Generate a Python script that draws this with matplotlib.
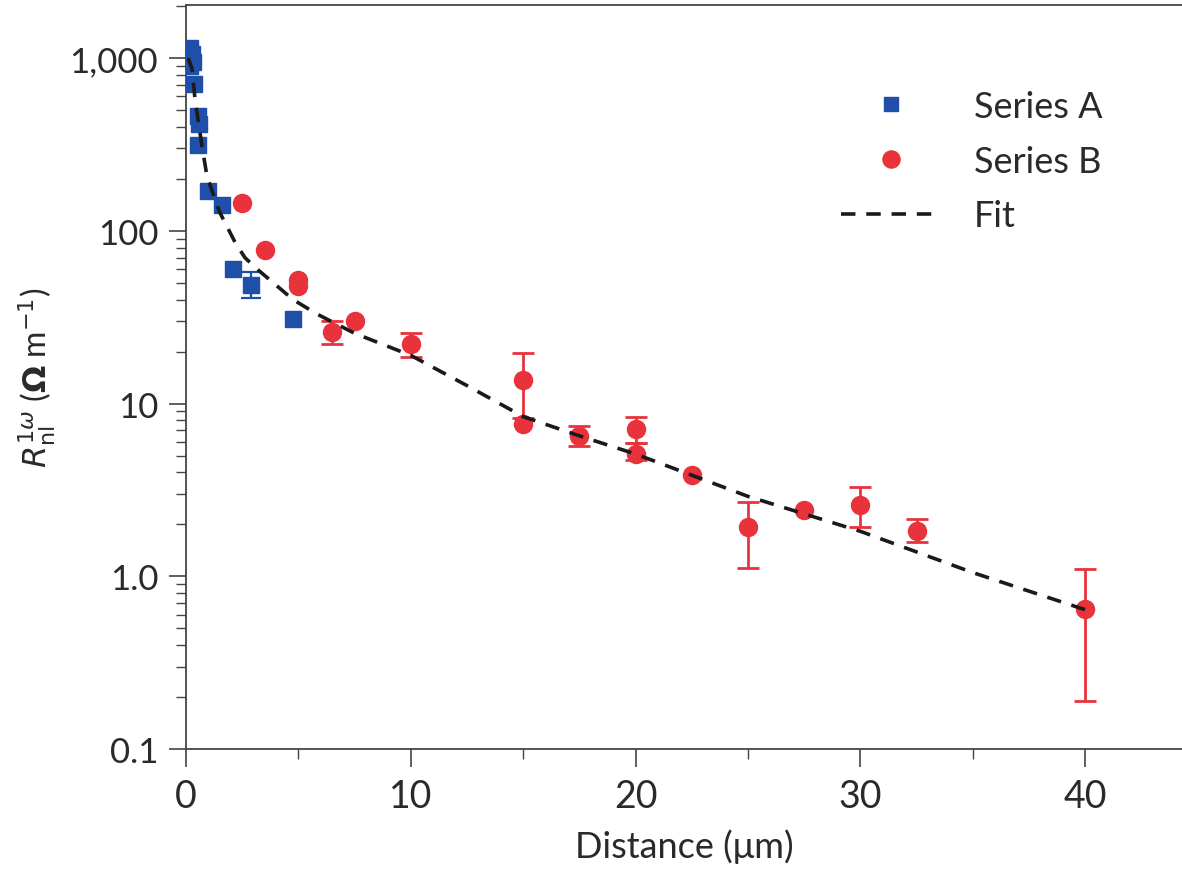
import numpy as np
import matplotlib
matplotlib.use('Agg')
import matplotlib.pyplot as plt
from matplotlib.ticker import FixedLocator, FixedFormatter, LogLocator, NullFormatter

# Series A (blue squares)
xa = [0.2, 0.25, 0.3, 0.2, 0.36, 0.55, 0.6, 0.55, 1.0, 1.6, 2.1, 2.9, 4.75]
ya = [1150, 1050, 950, 900, 708, 462, 415, 315, 170, 141, 60, 48.7, 31]
ya_lo = [0, 0, 0, 0, 0, 0, 0, 0, 0, 0, 0, 7.7, 0]
ya_hi = [0, 0, 0, 0, 0, 0, 0, 0, 0, 0, 0, 9.3, 0]

# Series B (red circles)
xb = [2.5, 3.5, 5.0, 5.0, 6.5, 7.5, 10, 15, 15, 17.5, 20, 20, 22.5, 25, 27.5, 30, 32.5, 40]
yb = [145, 77, 52, 48, 26, 30, 22, 13.6, 7.66, 6.5, 7.08, 5.1, 3.84, 1.92, 2.41, 2.6, 1.84, 0.644]
yb_lo = [0, 0, 0, 0, 4, 0, 3.3, 5.4, 0, 0.8, 1.2, 0.4, 0, 0.81, 0, 0.66, 0.27, 0.454]
yb_hi = [0, 0, 0, 0, 4, 0, 3.5, 6.1, 0, 0.9, 1.3, 0.8, 0, 0.76, 0, 0.67, 0.32, 0.456]

# Fit curve
xf = [0.1, 0.27, 0.4, 0.71, 0.93, 1.2, 1.5, 1.87, 2.2, 2.62, 3.1, 3.73, 4.76, 5.82, 7.5, 10, 12.5, 15,
      17.5, 20, 25, 30, 35, 40]
yf = [1000, 864, 580, 310, 208, 165, 128, 103, 85, 70, 61, 52, 40, 33, 25.5, 19, 12.7, 8.4,
      6.5, 5.1, 2.9, 1.82, 1.05, 0.64]

blue = '#1f4fa8'
red = '#e8333c'
txt = '#2a2a2a'
font = ['Lato', 'DejaVu Sans']


def with_err(x, y, lo, hi):
    keep = [i for i in range(len(x)) if lo[i] > 0 or hi[i] > 0]
    return ([x[i] for i in keep], [y[i] for i in keep],
            [[lo[i] for i in keep], [hi[i] for i in keep]])


fig = plt.figure(figsize=(11.82, 8.78), dpi=100)
ax = fig.add_axes([186/1182, 1 - 750/878, 1 - 186/1182, (750 - 6)/878])

ax.plot(xf, yf, '--', color='#1a1a1a', lw=2.6, dashes=(4, 3), label='Fit', zorder=4)

ex, ey, eerr = with_err(xa, ya, ya_lo, ya_hi)
ax.errorbar(ex, ey, yerr=eerr, fmt='none', ecolor=blue, elinewidth=1.6, capsize=7, capthick=1.6, zorder=2)
ax.plot(xa, ya, 's', color=blue, ms=11, mec=blue, label='Series A', zorder=3)

ex, ey, eerr = with_err(xb, yb, yb_lo, yb_hi)
ax.errorbar(ex, ey, yerr=eerr, fmt='none', ecolor=red, elinewidth=2, capsize=8, capthick=2, zorder=2)
ax.plot(xb, yb, 'o', color=red, ms=13, mec=red, label='Series B', zorder=3)

ax.set_yscale('log')
ax.set_ylim(0.1, 2030)
ax.set_xlim(0, 44.3)

ax.yaxis.set_major_locator(FixedLocator([0.1, 1, 10, 100, 1000]))
ax.yaxis.set_major_formatter(FixedFormatter(['0.1', '1.0', '10', '100', '1,000']))
ax.yaxis.set_minor_locator(LogLocator(base=10, subs=np.arange(2, 10)))
ax.yaxis.set_minor_formatter(NullFormatter())
ax.set_xticks([0, 10, 20, 30, 40])
ax.set_xticks([5, 15, 25, 35], minor=True)

ax.spines['right'].set_visible(False)
for s in ['left', 'bottom', 'top']:
    ax.spines[s].set_color('#444444')
    ax.spines[s].set_linewidth(1.3)

ax.tick_params(axis='y', which='major', direction='out', length=12, width=1.2, color='#444444',
               labelsize=25, labelcolor=txt, pad=8)
ax.tick_params(axis='y', which='minor', direction='out', length=7, width=1.0, color='#444444')
ax.tick_params(axis='x', which='major', direction='out', length=13, width=1.2, color='#444444',
               labelsize=27, labelcolor=txt, pad=8)
ax.tick_params(axis='x', which='minor', direction='out', length=7, width=1.0, color='#444444')
for lab in ax.get_xticklabels() + ax.get_yticklabels():
    lab.set_family(font)

ax.set_xlabel('Distance (μm)', fontsize=26, color=txt, family=font, labelpad=10)
ax.set_ylabel(r'$R^{1\omega}_{\mathrm{nl}}$ ($\mathbf{\Omega}$ m$^{-1}$)', fontsize=23, color=txt,
              family=font, labelpad=8)

h, l = ax.get_legend_handles_labels()
order = [1, 2, 0]
leg = ax.legend([h[i] for i in order], [l[i] for i in order], loc='upper right',
                bbox_to_anchor=(0.935, 0.905), frameon=False, handlelength=2.8,
                handletextpad=0.9, labelspacing=0.6, markerscale=0.95, borderaxespad=0,
                prop={'family': font, 'size': 26})
for t in leg.get_texts():
    t.set_color(txt)

fig.savefig('out.png', dpi=100)
